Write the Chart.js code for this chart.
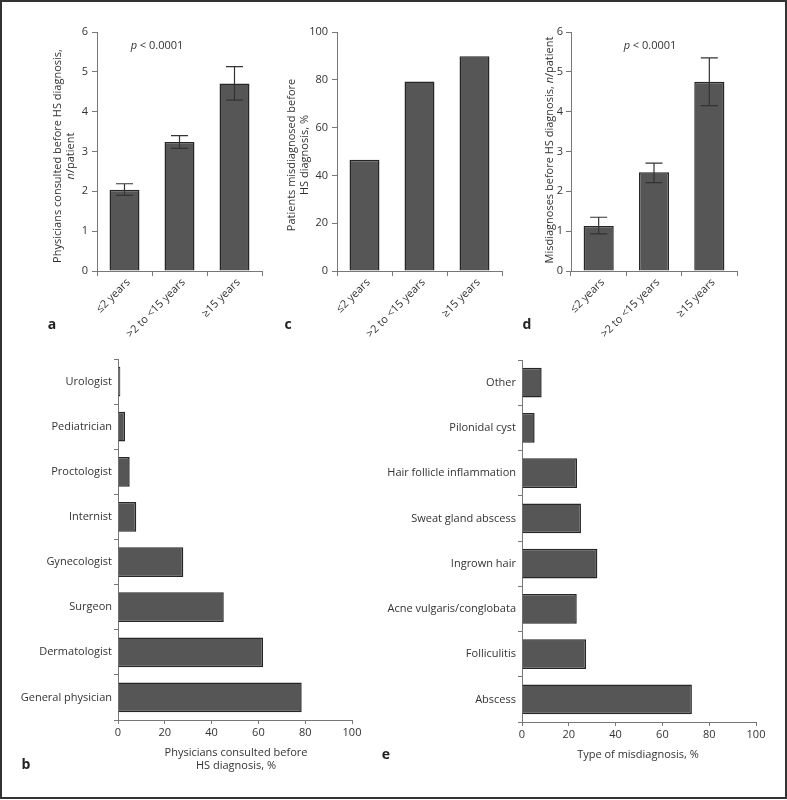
<!DOCTYPE html>
<html><head><meta charset="utf-8">
<script src="https://cdn.jsdelivr.net/npm/chart.js@4"></script>
<style>
body{margin:0;background:#fff;font-family:'Open Sans',sans-serif;color:#333}
#frame{position:absolute;left:0;top:0;width:787px;height:799px;box-sizing:border-box;border:2px solid #333;pointer-events:none}
canvas{position:absolute}
.t{position:absolute;font-size:11px;white-space:nowrap;color:#333;line-height:13px;transform:translate(-50%,-50%);text-align:center}
.rot{transform:translate(-50%,-50%) rotate(-90deg)}
.lbl{position:absolute;font-weight:bold;font-size:14px;color:#222;transform:translate(-50%,-50%)}
</style></head><body>
<div id="frame"></div>
<canvas id="ca"></canvas>
<canvas id="cc"></canvas>
<canvas id="cd"></canvas>
<canvas id="cb"></canvas>
<canvas id="ce"></canvas>

<div class="t rot" style="left:63px;top:156px">Physicians consulted before HS diagnosis,<br><i>n</i>/patient</div>
<div class="t" style="left:157px;top:44px"><i>p</i> &lt; 0.0001</div>
<div class="lbl" style="left:52px;top:323px">a</div>

<div class="t rot" style="left:297px;top:155px">Patients misdiagnosed before<br>HS diagnosis, %</div>
<div class="lbl" style="left:288px;top:323px">c</div>

<div class="t rot" style="left:548px;top:150px">Misdiagnoses before HS diagnosis, <i>n</i>/patient</div>
<div class="t" style="left:650px;top:44px"><i>p</i> &lt; 0.0001</div>
<div class="lbl" style="left:527px;top:323px">d</div>

<div class="t" style="left:236px;top:758px">Physicians consulted before<br>HS diagnosis, %</div>
<div class="lbl" style="left:26px;top:763px">b</div>

<div class="t" style="left:638px;top:753px">Type of misdiagnosis, %</div>
<div class="lbl" style="left:386px;top:753px">e</div>

<script>
// ---- data ----
const ageGroups = ['≤2 years', '>2 to <15 years', '≥15 years'];
const physiciansPerPatient = [2.04, 3.24, 4.71];
const physiciansErrLow = [1.90, 3.08, 4.29];
const physiciansErrHigh = [2.19, 3.40, 5.13];
const misdiagnosedPct = [46.6, 79.3, 89.9];
const misdiagnosesPerPatient = [1.13, 2.48, 4.75];
const misdiagnosesErrLow = [0.93, 2.22, 4.15];
const misdiagnosesErrHigh = [1.35, 2.71, 5.35];
const physicianTypes = ['Urologist', 'Pediatrician', 'Proctologist', 'Internist', 'Gynecologist', 'Surgeon', 'Dermatologist', 'General physician'];
const physicianTypePct = [1.0, 3.0, 5.0, 7.8, 27.9, 45.2, 62.0, 78.5];
const misdiagnosisTypes = ['Other', 'Pilonidal cyst', 'Hair follicle inflammation', 'Sweat gland abscess', 'Ingrown hair', 'Acne vulgaris/conglobata', 'Folliculitis', 'Abscess'];
const misdiagnosisTypePct = [8.4, 5.4, 23.5, 25.2, 32.2, 23.4, 27.4, 72.6];
const countTicks = [0, 1, 2, 3, 4, 5, 6];
const pctTicks = [0, 20, 40, 60, 80, 100];

// ---- styling ----
const AX = '#777', TXT = '#333', BAR = '#565656', BARB = '#262626';
const FONT = {family: "'Open Sans', sans-serif", size: 11};

const errorBars = {
  id: 'errorBars',
  afterDatasetsDraw(chart, args, opts) {
    if (!opts || !opts.low) return;
    const meta = chart.getDatasetMeta(0);
    const ys = chart.scales.y;
    const ctx = chart.ctx;
    ctx.save();
    ctx.strokeStyle = '#333';
    ctx.lineWidth = 1.2;
    meta.data.forEach((bar, i) => {
      const x = bar.x;
      const yl = ys.getPixelForValue(opts.low[i]);
      const yh = ys.getPixelForValue(opts.high[i]);
      ctx.beginPath();
      ctx.moveTo(x, yl); ctx.lineTo(x, yh);
      ctx.moveTo(x - 8.5, yl); ctx.lineTo(x + 8.5, yl);
      ctx.moveTo(x - 8.5, yh); ctx.lineTo(x + 8.5, yh);
      ctx.stroke();
    });
    ctx.restore();
  }
};

function place(id, box) {
  const c = document.getElementById(id);
  c.width = box.w; c.height = box.h;
  c.style.left = box.l + 'px'; c.style.top = box.t + 'px';
  c.style.width = box.w + 'px'; c.style.height = box.h + 'px';
  return c;
}

function vertical(id, box, area, values, max, tickVals, err, tickPad) {
  const c = place(id, box);
  return new Chart(c, {
    type: 'bar',
    data: {labels: ageGroups, datasets: [{data: values, backgroundColor: BAR, borderColor: BARB, borderWidth: 1.5, barPercentage: 0.545, categoryPercentage: 1}]},
    options: {
      responsive: false, animation: false, devicePixelRatio: 1,
      layout: {padding: {left: 0, bottom: 0, top: area.t - box.t, right: box.l + box.w - area.r}},
      plugins: {legend: {display: false}, tooltip: {enabled: false}, errorBars: err || {}},
      scales: {
        x: {type: 'category', offset: true,
            grid: {offset: true, drawOnChartArea: false, drawTicks: true, tickLength: 5, color: AX},
            border: {display: true, color: AX, width: 1},
            ticks: {minRotation: 45, maxRotation: 45, autoSkip: false, color: TXT, font: FONT, padding: 0, labelOffset: 4},
            afterFit: s => { s.height = box.t + box.h - area.b; }},
        y: {type: 'linear', min: 0, max: max,
            afterBuildTicks: s => { s.ticks = tickVals.map(v => ({value: v})); },
            grid: {drawOnChartArea: false, drawTicks: true, tickLength: 5, color: AX},
            border: {display: true, color: AX, width: 1},
            ticks: {color: TXT, font: FONT, padding: tickPad},
            afterFit: s => { s.width = area.l - box.l; }}
      }
    },
    plugins: [errorBars]
  });
}

function horizontal(id, box, area, labels, values) {
  const c = place(id, box);
  return new Chart(c, {
    type: 'bar',
    data: {labels: labels, datasets: [{data: values, backgroundColor: BAR, borderColor: BARB, borderWidth: 1.5, barPercentage: 0.66, categoryPercentage: 1}]},
    options: {
      indexAxis: 'y',
      responsive: false, animation: false, devicePixelRatio: 1,
      layout: {padding: {left: 0, bottom: 0, top: area.t - box.t, right: box.l + box.w - area.r}},
      plugins: {legend: {display: false}, tooltip: {enabled: false}},
      scales: {
        y: {type: 'category', offset: true,
            grid: {offset: true, drawOnChartArea: false, drawTicks: true, tickLength: 4, color: AX},
            border: {display: true, color: AX, width: 1},
            ticks: {autoSkip: false, color: TXT, font: FONT, padding: 2},
            afterFit: s => { s.width = area.l - box.l; }},
        x: {type: 'linear', min: 0, max: 100,
            afterBuildTicks: s => { s.ticks = pctTicks.map(v => ({value: v})); },
            grid: {drawOnChartArea: false, drawTicks: true, tickLength: 4, color: AX},
            border: {display: true, color: AX, width: 1},
            ticks: {color: TXT, font: FONT, padding: 2},
            afterFit: s => { s.height = box.t + box.h - area.b; }}
      }
    }
  });
}

vertical('ca', {l: 60, t: 20, w: 225, h: 340}, {l: 97, t: 32, r: 262, b: 271}, physiciansPerPatient, 6, countTicks, {low: physiciansErrLow, high: physiciansErrHigh}, 4);
vertical('cc', {l: 300, t: 20, w: 225, h: 340}, {l: 337, t: 32, r: 502, b: 271}, misdiagnosedPct, 100, pctTicks, null, 4);
vertical('cd', {l: 540, t: 20, w: 225, h: 340}, {l: 571, t: 32, r: 737, b: 271}, misdiagnosesPerPatient, 6, countTicks, {low: misdiagnosesErrLow, high: misdiagnosesErrHigh}, 3);
horizontal('cb', {l: 0, t: 345, w: 380, h: 400}, {l: 118, t: 359, r: 352, b: 720}, physicianTypes, physicianTypePct);
horizontal('ce', {l: 380, t: 345, w: 400, h: 400}, {l: 522, t: 360, r: 756, b: 722}, misdiagnosisTypes, misdiagnosisTypePct);
</script>
</body></html>
